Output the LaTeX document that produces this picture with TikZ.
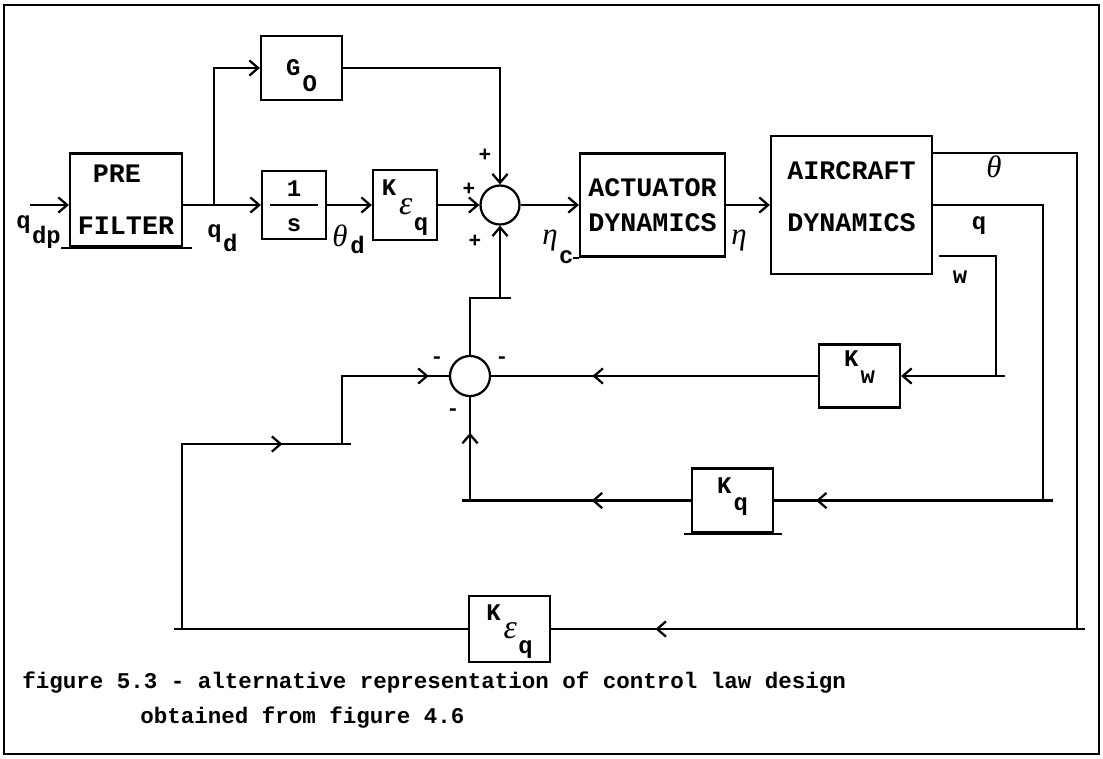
\documentclass[tikz,border=0pt]{standalone}
\usepackage{fontspec}
\usepackage{tikz}
\usetikzlibrary{arrows.meta,positioning,calc,decorations.markings}
\newfontfamily\plotfont{Liberation Mono}
\newfontfamily\greekfont{Liberation Serif}
\newcommand{\greeklbl}[2][22]{{\greekfont\mdseries\itshape\fontsize{#1}{#1}\selectfont #2}}
\tikzset{
  block/.style={draw,line width=1.6pt,inner sep=0pt,font=\plotfont\bfseries\fontsize{17}{20}\selectfont},
  big block/.style={block,align=center,font=\plotfont\bfseries\fontsize{19}{24}\selectfont},
  sum/.style={circle,draw,line width=1.6pt,minimum size=0.975cm,inner sep=0pt},
  sig line/.style={line width=1.6pt},
  sig arrow/.style={line width=1.6pt,-{Straight Barb[length=2.2mm,width=3.8mm]}},
  mid arrow/.style={postaction={decorate},decoration={markings,mark=at position #1 with {\arrow{Straight Barb[length=2.2mm,width=3.8mm]}}}},
  lbl/.style={inner sep=0pt,font=\plotfont\bfseries\fontsize{17}{20}\selectfont},
  sign/.style={inner sep=0pt,font=\plotfont\bfseries\fontsize{15}{16}\selectfont},
  caption/.style={inner sep=0pt,anchor=west,font=\plotfont\bfseries\fontsize{16}{19}\selectfont}
}

\begin{document}
\begin{tikzpicture}[x=0.025cm,y=-0.025cm]
        \useasboundingbox (0,0) rectangle (1103,758);
        \draw[line width=1.5pt] (4,5) rectangle (1099,754);
        % forward path
        \node[big block,minimum width=2.8cm,minimum height=2.325cm] (prefilter) at (126,200) {PRE\hspace*{13pt}\\[13pt]FILTER};
        \node[block,minimum width=2.025cm,minimum height=1.6cm] (g0) at (301.5,68) {\smash{\raisebox{-5pt}{G}\kern1.5pt\raisebox{-17pt}{O}}};
        \node[block,minimum width=1.6cm,minimum height=1.7cm] (recip) at (294,205) {\smash{\makebox[34pt]{\raisebox{6pt}{1}}\llap{\rule[-0.8pt]{34pt}{1.6pt}}\llap{\makebox[34pt]{\raisebox{-19pt}{s}}}}};
        \node[block,minimum width=1.6cm,minimum height=1.74cm] (keq) at (405,205) {\smash{\raisebox{6.5pt}{K}\kern2pt\raisebox{-6.4pt}{\greeklbl[24]{ε}}\kern1pt\raisebox{-18pt}{q}}};
        \node[sum] (sum1) at (500,205) {};
        \node[big block,minimum width=3.625cm,minimum height=2.575cm] (actuator) at (652.5,205) {ACTUATOR\\[1pt]DYNAMICS};
        \node[big block,minimum width=4.025cm,minimum height=3.45cm] (aircraft) at (851.5,205) {AIRCRAFT\\[13pt]DYNAMICS\rule[-11.4pt]{0pt}{0pt}};
        % feedback path
        \node[block,minimum width=2.025cm,minimum height=1.575cm] (kw) at (859.5,376) {\smash{\raisebox{6.5pt}{K}\kern1.5pt\raisebox{-5pt}{w}}};
        \node[sum,minimum size=1cm] (sum2) at (470,376) {};
        \node[block,minimum width=2.025cm,minimum height=1.6cm] (kq) at (732.5,500.5) {\smash{\raisebox{5pt}{K}\kern1.5pt\raisebox{-7.4pt}{q}}};
        \node[block,minimum width=2.025cm,minimum height=1.65cm] (k2) at (509.5,629) {\smash{\raisebox{6.2pt}{K}\kern2pt\raisebox{-6.4pt}{\greeklbl[24]{ε}}\kern1pt\raisebox{-17.7pt}{q}}};
        % signal labels
        \node[lbl,anchor=base west] (qdp) at (16,228) {q\kern1pt\raisebox{-11.3pt}{dp}};
        \node[lbl,anchor=base west] (qd) at (207,237) {q\kern1pt\raisebox{-10pt}{d}};
        \node[lbl,anchor=base west] (thetad) at (332,246) {\greeklbl{θ}\kern2pt\raisebox{-5pt}{d}};
        \node[lbl,anchor=base west] (etac) at (542,244) {\greeklbl{η}\kern1pt\raisebox{-14pt}{c}};
        \node[lbl] (eta) at (739,241) {\greeklbl{η}};
        \node[lbl] (theta) at (994,167) {\greeklbl{θ}};
        \node[lbl] (qout) at (979,226) {q};
        \node[lbl] (wout) at (960,277.5) {w};
        \node[sign] (plus top) at (485,155) {+};
        \node[sign] (plus left) at (469,189) {+};
        \node[sign] (plus low) at (475,241) {+};
        \node[sign] (minus left) at (437,360) {-};
        \node[sign] (minus right) at (502,360) {-};
        \node[sign] (minus low) at (453,412) {-};
        \coordinate (qin) at (30,205);
        \coordinate (split) at (214,205);
        \coordinate (theta turn) at (1077,629);
        \coordinate (q turn) at (1043,500.5);
        \coordinate (w turn) at (996,376);
        \coordinate (loop corner) at (182,444);
        \coordinate (loop step) at (342,376);
        \draw[sig arrow] (qin) -- (qin -| prefilter.west);
        \draw[sig arrow] (prefilter.east |- recip.west) -- (recip.west);
        \draw[sig arrow] (split) |- (g0.west);
        \draw[sig arrow] (recip) -- (keq);
        \draw[sig arrow] (keq) -- (sum1);
        \draw[sig arrow] (g0) -| (sum1);
        \draw[sig arrow] (sum1) -- (actuator);
        \draw[sig arrow] (actuator) -- (aircraft);
        \draw[sig line,mid arrow=0.909] ([yshift=1.3cm]aircraft.east) -| (theta turn) -- (k2);
        \draw[sig line,mid arrow=0.938] (aircraft.east) -| (q turn) -- (kq);
        \draw[sig arrow] ([xshift=0.15cm,yshift=-1.275cm]aircraft.east) -| (w turn) -- (kw);
        \draw[sig line,mid arrow=0.69] (kw) -- (sum2);
        \draw[sig line,postaction={decorate},decoration={markings,
            mark=at position 0.306 with {\arrow{Straight Barb[length=2.2mm,width=3.8mm]}},
            mark=at position 0.89 with {\arrow{Straight Barb[length=2.2mm,width=3.8mm]}}}] (kq) -| (sum2);
        \draw[sig arrow] (sum2) |- ([yshift=-1.8cm]sum1.south) -- (sum1);
        \draw[sig line,postaction={decorate},decoration={markings,
            mark=at position 0.709 with {\arrow{Straight Barb[length=2.2mm,width=3.8mm]}},
            mark=at position 0.975 with {\arrow{Straight Barb[length=2.2mm,width=3.8mm]}}}] (k2) -| (loop corner) -- (loop step |- loop corner) -- (loop step) -- (sum2);
        % overshoots of the hand drawing
        \draw[sig line] ([xshift=-0.2cm]prefilter.south west) -- ([xshift=0.225cm]prefilter.south east);
        \draw[sig line] ([xshift=-0.15cm]actuator.south west) -- (actuator.south west);
        \draw[sig line] ([xshift=-0.175cm]kq.south west) -- ([xshift=0.2cm]kq.south east);
        \draw[sig line] (theta turn) -- ++(8,0);
        \draw[sig line] (q turn) -- ++(10,0);
        \draw[sig line] (w turn) -- ++(9,0);
        \draw[sig line] (theta turn -| loop corner) -- ++(-8,0);
        \draw[sig line] (loop step |- loop corner) -- ++(9,0);
        \draw[sig line] (kq.west -| sum2) -- ++(-8,0);
        \draw[sig line] ([yshift=-1.8cm]sum1.south) -- ++(11,0);
        % caption
        \node[caption] (caption1) at (22,683) {figure 5.3 - alternative representation of control law design};
        \node[caption] (caption2) at (140,718) {obtained from figure 4.6};
      \end{tikzpicture}
\end{document}
